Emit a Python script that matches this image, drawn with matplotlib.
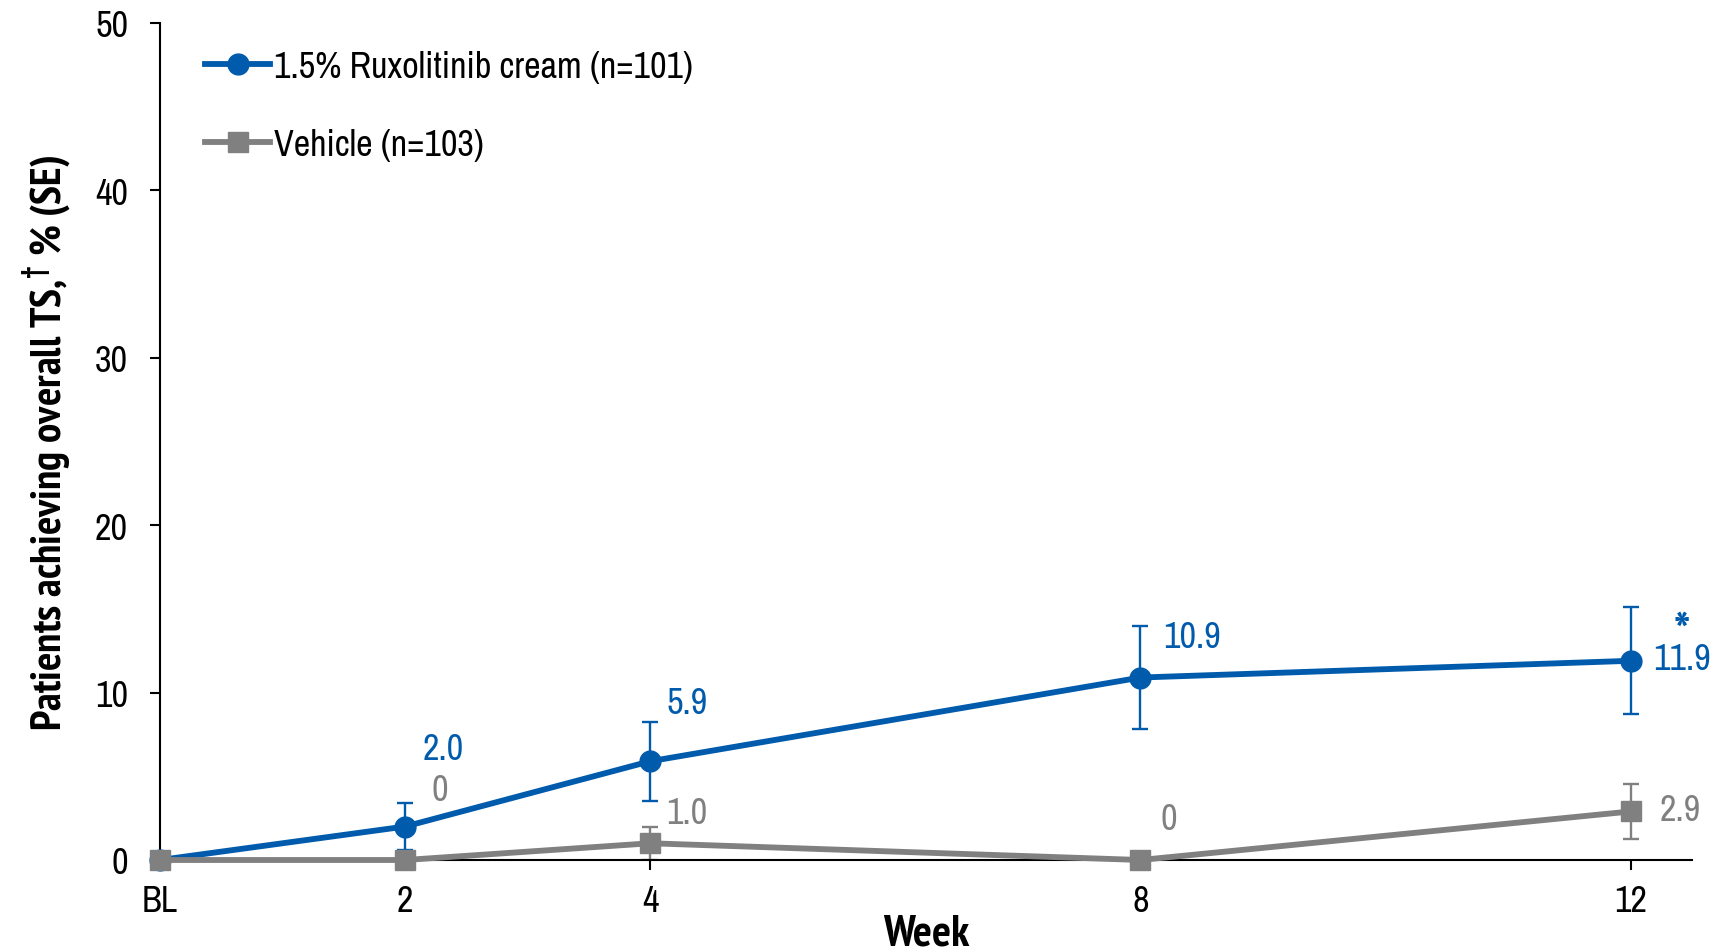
import matplotlib
matplotlib.use("Agg")
import matplotlib.pyplot as plt
from matplotlib import font_manager
import numpy as np

# ---- data ----
weeks = [0, 2, 4, 8, 12]
week_labels = ["BL", "2", "4", "8", "12"]
rux_vals = [0.0, 2.0, 5.9, 10.9, 11.9]
rux_se = [0.0, 1.4, 2.35, 3.1, 3.2]
veh_vals = [0.0, 0.0, 1.0, 0.0, 2.9]
veh_se = [0.0, 0.0, 1.0, 0.0, 1.65]
rux_text = [None, "2.0", "5.9", "10.9", "11.9"]
veh_text = [None, "0", "1.0", "0", "2.9"]
rux_name = "1.5% Ruxolitinib cream (n=101)"
veh_name = "Vehicle (n=103)"
yticks = [0, 10, 20, 30, 40, 50]

# ---- fonts ----
entries = font_manager.fontManager.ttflist
avail = {f.name for f in entries}
bold_avail = {f.name for f in entries if (isinstance(f.weight, int) and f.weight >= 700) or f.weight == "bold"}
cands = ["Liberation Sans Narrow", "Arial Narrow", "Archivo Narrow", "PT Sans Narrow",
         "Roboto Condensed", "IBM Plex Sans Condensed", "Open Sans Condensed", "Liberation Sans"]
fam = next(c for c in cands if c in avail)
bfam = next(c for c in cands if c in bold_avail)
plt.rcParams["font.family"] = [fam, "DejaVu Sans"]
plt.rcParams["mathtext.fontset"] = "custom"
plt.rcParams["mathtext.rm"] = bfam + ":bold"
plt.rcParams["mathtext.bf"] = bfam + ":bold"

BLUE = "#005BAC"
GREY = "#808080"
FS = 26

fig = plt.figure(figsize=(17.15, 9.53), dpi=100)
ax = fig.add_axes([160/1715, 1-861/953, (1692-160)/1715, (861-24)/953])

# lines
ax.plot(weeks, rux_vals, color=BLUE, lw=4.2, marker="o", ms=15, zorder=3, label=rux_name, clip_on=False)
ax.plot(weeks, veh_vals, color=GREY, lw=4.2, marker="s", ms=15, zorder=4, label=veh_name, clip_on=False)

# error bars (only where SE > 0)
rx = [w for w, s in zip(weeks, rux_se) if s > 0]
ry = [v for v, s in zip(rux_vals, rux_se) if s > 0]
rs = [s for s in rux_se if s > 0]
ax.errorbar(rx, ry, yerr=rs, fmt="none", ecolor=BLUE, elinewidth=1.7, capsize=6, capthick=1.7, zorder=2)
vx = [w for w, s in zip(weeks, veh_se) if s > 0]
vy = [v for v, s in zip(veh_vals, veh_se) if s > 0]
vs = [s for s in veh_se if s > 0]
ax.errorbar(vx, vy, yerr=vs, fmt="none", ecolor=GREY, elinewidth=1.7, capsize=6, capthick=1.7, zorder=2)

# value labels (offsets in pixels)
rux_off = [None, (38, 78), (37, 59), (52, 41), (51, 2)]
veh_off = [None, (35, 70), (37, 31), (28, 41), (49, 2)]
for w, v, t, o in zip(weeks, rux_vals, rux_text, rux_off):
    if t:
        ax.annotate(t, xy=(w, v), xytext=o, textcoords="offset pixels",
                    ha="center", va="center", color=BLUE, fontsize=FS)
for w, v, t, o in zip(weeks, veh_vals, veh_text, veh_off):
    if t:
        ax.annotate(t, xy=(w, v), xytext=o, textcoords="offset pixels",
                    ha="center", va="center", color=GREY, fontsize=FS)
ax.annotate("*", xy=(weeks[-1], rux_vals[-1]), xytext=(51, 26), textcoords="offset pixels",
            ha="center", va="center", color=BLUE, fontsize=FS + 10, fontweight="bold",
            family=[bfam, "DejaVu Sans"])

# axes
ax.set_xlim(0, 12.5)
ax.set_ylim(0, 50)
ax.set_xticks(weeks)
ax.set_xticklabels(week_labels)
ax.set_yticks(yticks)
for s in ["top", "right"]:
    ax.spines[s].set_visible(False)
for s in ["left", "bottom"]:
    ax.spines[s].set_linewidth(1.5)
ax.tick_params(axis="y", length=7, width=1.5, pad=16, labelsize=FS)
ax.tick_params(axis="x", length=7, width=1.5, pad=10, labelsize=FS)

ax.set_xlabel("Week", fontsize=32, fontweight="bold", labelpad=-2, family=[bfam, "DejaVu Sans"])
ax.set_ylabel(r"Patients achieving overall TS,$^{\dagger}$ % (SE)", fontsize=31, fontweight="bold",
              labelpad=16, family=[bfam, "DejaVu Sans"])

leg = ax.legend(loc="upper left", bbox_to_anchor=(0.02, 0.985), frameon=False, fontsize=FS,
                handlelength=1.8, handletextpad=0.1, labelspacing=1.25, borderaxespad=0)

fig.savefig("out.png", dpi=100)
